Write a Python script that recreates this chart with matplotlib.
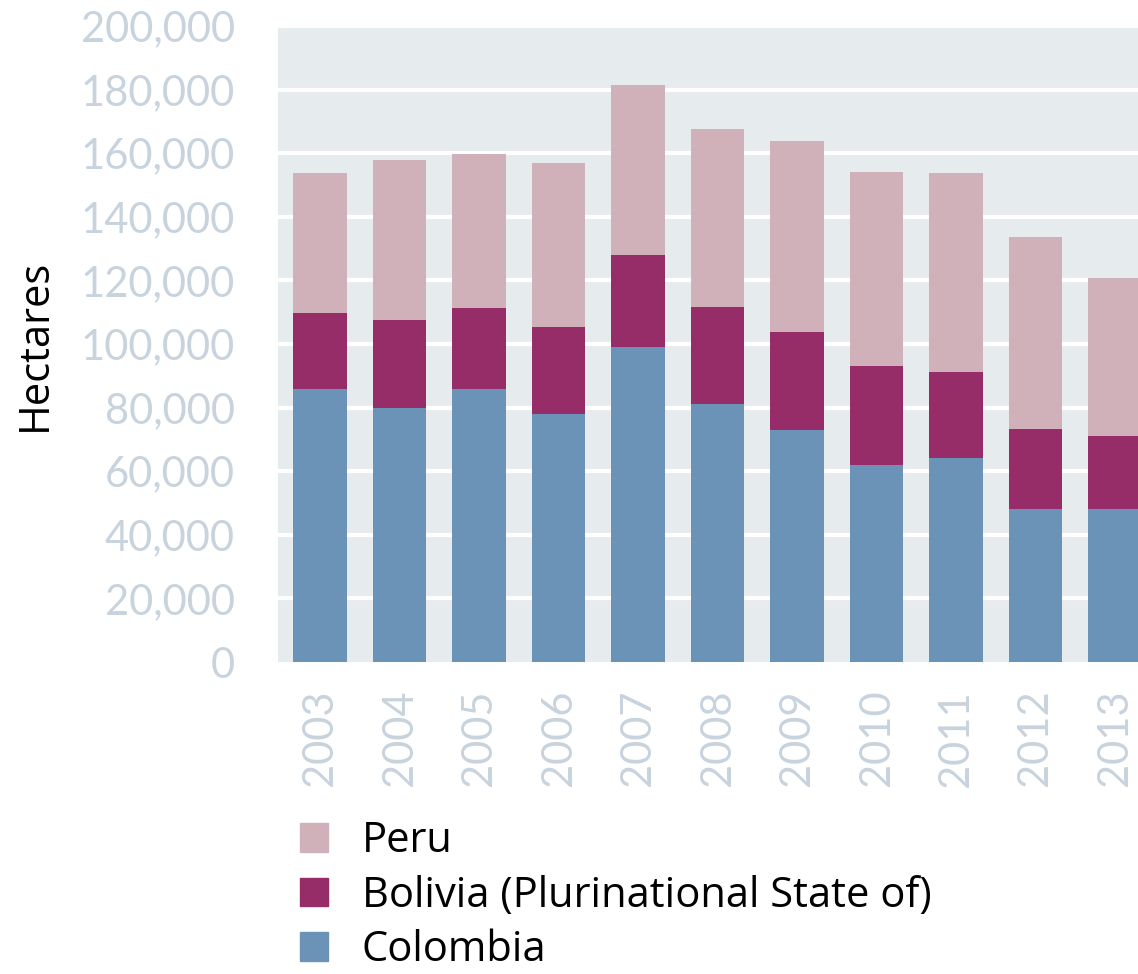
import matplotlib.pyplot as plt
import numpy as np
from matplotlib.patches import Patch

years = ['2003', '2004', '2005', '2006', '2007', '2008', '2009', '2010', '2011', '2012', '2013']
colombia = [86000, 80000, 86000, 78000, 99000, 81000, 73000, 62000, 64000, 48000, 48000]
bolivia = [23600, 27700, 25400, 27500, 28900, 30500, 30900, 31000, 27200, 25300, 23000]
peru = [44200, 50300, 48200, 51400, 53700, 56100, 59900, 61200, 62500, 60400, 49800]

c_col = '#6B93B7'
c_bol = '#962D69'
c_per = '#D0B1B9'
tick_col = '#C8D3DD'

plt.rcParams['font.family'] = ['Lato', 'DejaVu Sans']

fig = plt.figure(figsize=(11.38, 9.74), dpi=100)
ax = fig.add_axes([278 / 1138, 1 - 662 / 974, 1 - 278 / 1138, (662 - 26) / 974])
ax.set_facecolor('#E6EBEE')

x = np.arange(len(years))
col = np.array(colombia)
bol = np.array(bolivia)
per = np.array(peru)
w = 0.67
ax.bar(x, col, w, color=c_col, zorder=3)
ax.bar(x, bol, w, bottom=col, color=c_bol, zorder=3)
ax.bar(x, per, w, bottom=col + bol, color=c_per, zorder=3)

ax.set_xlim(-0.53, 10.29)
ax.set_ylim(0, 200000)
yt = np.arange(0, 200001, 20000)
ax.set_yticks(yt)
ax.set_yticklabels(['{:,}'.format(v) for v in yt])
for v in yt[1:]:
    ax.axhline(v, color='white', lw=3, zorder=1)

ax.set_xticks(x)
ax.set_xticklabels(years, rotation=90)
ax.tick_params(axis='y', length=0, pad=31, labelsize=30, labelcolor=tick_col)
ax.tick_params(axis='x', length=0, pad=20, labelsize=30, labelcolor=tick_col)
for s in ax.spines.values():
    s.set_visible(False)

fig.text(35 / 1138, 1 - 345 / 974, 'Hectares', rotation=90, fontsize=30,
         family=['Open Sans', 'DejaVu Sans'], ha='center', va='center', color='black')

handles = [Patch(color=c_per, label='Peru'),
           Patch(color=c_bol, label='Bolivia (Plurinational State of)'),
           Patch(color=c_col, label='Colombia')]
fig.legend(handles=handles, loc='upper left', bbox_to_anchor=(300 / 1138, 1 - 820 / 974),
           frameon=False, prop={'family': ['Open Sans', 'DejaVu Sans'], 'size': 30},
           handlelength=0.68, handleheight=0.68, handletextpad=0.8, labelspacing=0.3,
           borderpad=0, borderaxespad=0)

fig.savefig('out.png', dpi=100)
